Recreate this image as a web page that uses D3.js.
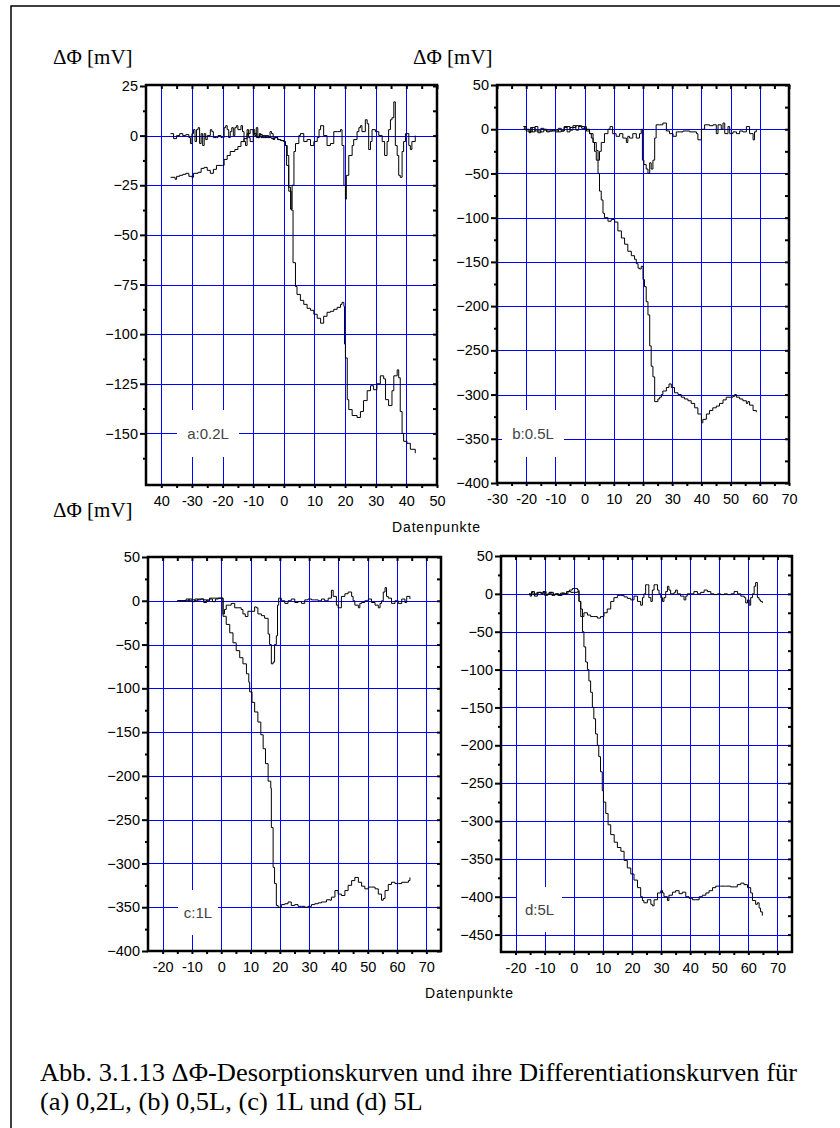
<!DOCTYPE html>
<html>
<head>
<meta charset="utf-8">
<title>Desorptionskurven</title>
<script src="https://d3js.org/d3.v7.min.js"></script>
<style>
body { margin: 0; background: #fff; }
.serif { font-family: "Liberation Serif", "Times New Roman", Times, serif; }
.sans { font-family: "Liberation Sans", Arial, Helvetica, sans-serif; }
</style>
</head>
<body>
<script>
// ---- data: [Datenpunkt, mV] ----
var aIntegral = [[-37,-21],[-35.5,-22],[-35,-20.5],[-34,-20],[-33,-19.5],[-32,-19],[-31,-20.5],[-30,-21],[-29.5,-19],[-28,-18.5],
  [-27,-16.5],[-26,-16],[-25,-17.5],[-24,-19],[-23,-17],[-22,-15],[-20,-15],[-19.5,-12],[-18.5,-10],[-17.5,-8],[-16,-7],
  [-15,-5.5],[-14,-3],[-13,-1.5],[-12,1],[-11,3],[-10,1],[-9,-1],[-8,0.5],[-7,-1],[-6,0],[-5,-1],[-4,-1.5],[-3,-1],[-2,-2],
  [-1,-2.5],[0,-3],[0.5,-5],[1.1,-10],[1.6,-28],[2.4,-37.5],[3,-64],[3.8,-76],[4.3,-80],[5.4,-83],[6.5,-85],[7.6,-87],
  [8.7,-88],[9.8,-90],[10.9,-92],[12,-94.5],[13,-91],[14.1,-89],[15.2,-88.5],[16.3,-87.5],[17.4,-86.5],[18.5,-85],[19,-84],
  [19.6,-86],[19.8,-105],[20.1,-112],[20.7,-133],[21.2,-138],[22.3,-141],[23.9,-142],[25,-139],[26,-133.5],[27.2,-128.5],
  [28.3,-126],[29.3,-128],[30.4,-125],[31.5,-121],[32.6,-122.5],[33.2,-133],[34.2,-136],[35.3,-128.5],[35.9,-121],[37,-118],
  [37.5,-122],[38,-139],[38.6,-150],[39.1,-154],[40.2,-155],[41.3,-158],[42.9,-160]];
var aDiff = [[-37,1],[-36,-1.5],[-35,0],[-34,1],[-33,0],[-32,0.5],[-31,-1],[-30.5,-4],[-30,1],[-29.5,3],[-29,-3],[-28.5,3],
  [-28,4],[-27.5,-4],[-27,1],[-26.5,-5],[-26,1],[-25.5,-2],[-25,0],[-24,3],[-23.5,2],[-23,-1],[-22,-1],[-21.5,0],[-20.5,-1],
  [-20,-1],[-19.5,4],[-19,5],[-18.5,3],[-18,-1],[-17.5,2],[-17,4],[-16.5,0],[-16,4],[-15.5,5],[-15,3],[-14,5],[-13.5,2],
  [-13,-3],[-12.5,-5],[-12,3],[-11.5,-1],[-11,-3],[-10,3],[-9.5,0],[-9,4],[-8.5,-1],[-8,1],[-7.5,-1],[-7,0],[-6,-1],[-5,-1],
  [-4.5,2],[-4,1],[-3.5,-2],[-3,-1],[-2,-2],[-1,-2.5],[0,-3],[0.5,-5],[0.9,-15],[1.6,-26],[2.2,-37],[2.7,-25],[3.3,-8],
  [3.8,-4],[4.9,0],[5.4,1],[6.5,-3],[7.6,-2],[8.7,-5],[9.8,-3],[10.9,-1],[11.5,3],[12,5],[13,0],[14.1,-5],[15.2,-4],[16.3,2],
  [17.4,2],[18.5,3],[19,-5],[19.6,-25],[20.1,-32],[20.4,-20],[21.2,-10],[22.3,-5],[22.8,-2],[23.9,2],[24.5,4],[25,5],
  [25.5,2],[26.6,8],[27.2,6],[27.7,-7],[28.3,-3],[28.8,3],[29.9,2],[31,0],[32.1,-3],[32.9,-10],[33.7,-3],[34.2,3],[34.8,8],
  [35.3,9],[35.9,17],[36.4,-5],[37,-10],[37.5,-20],[38,-21],[38.6,-8],[39.1,-3],[39.7,1],[40.2,1],[40.8,-5],[41.3,-7],
  [41.8,-3],[42.9,0]];

var bIntegral = [[-21,3],[-20,0],[-19,-3],[-18,2],[-17,-2],[-16,-4],[-15,1],[-14,0],[-13,-3],[-12,-2],[-11,-2],[-10,-1],
  [-9,-3],[-8,-2],[-7,2],[-6,3],[-5,-1],[-4,2],[-3,4],[-2,3],[-1,1],[0,3],[0.6,-2],[1.7,-5],[2.3,-10],[2.9,-15],[3.4,-25],
  [4,-35],[4.6,-50],[5.1,-70],[5.7,-80],[6.3,-95],[6.8,-100],[8,-104],[9.1,-102],[10.3,-105],[11.4,-115],[12.6,-123],
  [13.7,-130],[14.8,-138],[16,-143],[17.1,-147],[17.7,-152],[18.3,-157],[18.8,-158],[19.4,-155],[20,-170],[20.5,-178],
  [21.1,-195],[21.7,-210],[22.3,-245],[22.8,-268],[23.4,-280],[24,-308],[25.1,-305],[25.7,-303],[26.3,-300],[26.8,-296],
  [28,-292],[28.9,-288],[29.7,-292],[30.8,-298],[32,-300],[33.1,-303],[34.2,-305],[35.4,-307],[36.5,-310],[37.7,-315],
  [38.8,-322],[40,-332],[40.5,-328],[41.7,-322],[42.8,-318],[43.9,-315],[45.1,-313],[46.2,-310],[47.4,-306],[48.5,-303],
  [50.8,-302],[51.4,-300],[52,-303],[53.1,-305],[54.2,-307],[55.4,-310],[55.9,-308],[56.5,-312],[57.7,-318],[58.8,-320]];
var bDiff = [[-21,0],[-20.5,3],[-20,-2],[-19,-4],[-18.5,2],[-18,-3],[-17,3],[-16,-2],[-15,-3],[-14,-1],[-13,-2],[-12,-2],
  [-11,-1],[-10,-3],[-9,1],[-8,-2],[-7,3],[-6,-3],[-5,2],[-4,4],[-3,-1],[-2,4],[-1,3],[0,0],[1.7,-5],[2.9,-15],[4,-24],
  [4.6,-35],[5.1,-25],[5.7,-15],[6.8,-5],[8,0],[8.7,3],[9.6,-5],[10.8,-8],[12,-5],[13.1,-10],[14.3,-15],[14.8,-8],
  [15.4,-10],[16.5,-5],[17.7,-10],[18.8,-5],[19.4,0],[19.8,-35],[20.3,-40],[21.1,-45],[21.7,-50],[22.3,-38],[22.8,-45],
  [23.4,-35],[24,-10],[24.5,5],[25.7,5],[26.8,7],[28,-2],[29.1,-5],[30.3,-8],[31.4,-3],[33.7,-2],[36,-3],[38.3,-5],
  [38.8,-12],[40,0],[41.1,5],[42.8,4],[44,5],[45.1,-5],[45.7,5],[46.8,0],[47.4,7],[48,-5],[49.1,3],[49.7,-5],[50.8,-3],
  [52,-5],[53.1,-2],[54.2,-3],[55.4,3],[56.5,-5],[57.7,-12],[58.2,-3],[58.8,0]];

var cIntegral = [[-15,0],[-12,0],[-11,2],[-10,1],[-9,0],[-8,2],[-7,2],[-6,1],[-5,0],[-4,3],[-3,3],[-2,3],[-1,3],[0,3],
  [0.6,-17.7],[1.7,-27],[2.9,-36.6],[4,-48],[5.1,-57],[6.3,-65],[7.4,-72],[8.6,-83.4],[9.4,-93],[9.7,-104],[10.5,-116],
  [11.4,-127],[12.5,-138.5],[13.5,-153],[14.3,-169],[15.1,-186],[16,-206],[16.9,-214],[17.1,-259],[17.7,-304.5],
  [18.2,-323],[18.8,-348],[19.4,-350],[20.5,-347],[21.7,-346],[22.8,-344],[23.9,-348],[25.1,-347],[26.2,-349],[27.4,-349],
  [28.5,-350],[29.6,-349],[30.8,-347],[31.9,-346],[33.1,-345],[34.2,-344],[35.3,-344],[35.9,-341.5],[37.1,-342],
  [37.6,-338.5],[38.8,-331],[39.9,-335],[41,-336.6],[42.2,-331],[43.3,-325],[44.5,-319.6],[45.6,-316],[46.8,-321.5],
  [47.9,-326],[49,-329],[50.2,-327],[51.3,-327],[52.5,-329],[53.6,-335],[54.7,-342],[55.3,-340],[55.9,-331],[57,-324],
  [58.1,-321.5],[59.3,-323],[60.4,-323],[61.6,-321.5],[62.7,-321.5],[63.9,-319.6],[64.4,-316]];
var cDiff = [[-15,0],[-13,0],[-12,2],[-11,0],[-10,-1],[-9,2],[-8,1],[-7,2],[-6,-2],[-5,1],[-4,2],[-3,-1],[-2,2],[-1,3],
  [0,3],[0.6,-15],[1.1,-10],[1.7,-5],[2.9,-5],[3.4,-3],[4.6,-8],[5.7,-8],[6.8,-10],[7.4,-15],[8.2,-18],[9.1,-12],
  [10.3,-12],[11.4,-7],[12,-8],[12.5,-15],[13.7,-17],[14.8,-20],[16,-38],[16.5,-50],[17.1,-72],[17.7,-70],[18.2,-50],
  [18.8,-40],[19.2,-5],[19.6,3],[20.5,0],[21.7,-3],[22.8,0],[23.9,2],[25.1,-2],[26.2,-1],[27.4,-3],[28.5,1],[29.6,2],
  [30.8,1],[31.9,1],[33.1,0],[34.2,2],[35.3,0],[36.5,3],[37.6,12],[38.2,5],[39.3,-5],[39.9,-8],[41,5],[42.2,8],[43.3,10],
  [44.5,5],[45,0],[45.6,-5],[46.8,-8],[47.3,-3],[47.9,-2],[49,0],[50.2,2],[51.3,-2],[52.5,-5],[53.6,-8],[54.2,-3],
  [54.7,0],[55.3,10],[55.9,15],[56.4,5],[57,3],[58.1,-3],[59.3,0],[60.4,-3],[61.6,2],[62.7,-2],[63.3,5],[64.4,2]];

var dIntegral = [[-15.3,0],[-14.5,3],[-13.5,-3],[-12.5,2],[-11.5,1],[-10.5,3],[-9.5,-1],[-8.5,2],[-7.5,-2],[-6.5,0],
  [-5.5,-2],[-4.5,1],[-3.5,0],[-2.5,3],[-1.5,5],[-0.5,7],[0.5,7],[1.3,5],[1.8,-10],[2.4,-30],[3,-50],[3.5,-70],[4.1,-90],
  [4.7,-100],[5.2,-115],[5.8,-130],[6.4,-150],[6.9,-165],[7.5,-185],[8.1,-200],[8.6,-215],[9.2,-235],[9.8,-260],
  [10.2,-275],[11,-290],[11.8,-305],[12.7,-318],[13.9,-328],[15,-335],[16.2,-340],[17.3,-352],[18.4,-362],[19.6,-370],
  [20.7,-378],[21.9,-388],[23,-400],[23.6,-405],[24.1,-408],[25.3,-404],[26.5,-410],[27,-412],[27.6,-404],[28.8,-395],
  [29.9,-392],[30.5,-395],[31,-400],[32.2,-405],[32.7,-398],[33.9,-394],[35,-392],[36.2,-396],[37.3,-394],[38.5,-400],
  [39.6,-402],[40.8,-404],[41.9,-404],[43.1,-400],[44.2,-398],[45.4,-395],[46.5,-392],[47.7,-388],[48.8,-386],
  [50.5,-386],[52.2,-386],[53.9,-387],[55.1,-387],[56.2,-384],[57.4,-382],[58.5,-384],[59.7,-388],[60.8,-395],
  [61.4,-405],[62.5,-410],[63.1,-408],[63.7,-415],[64.2,-420],[64.8,-425]];
var dDiff = [[-15.3,0],[-15,-3],[-14.5,2],[-14,-1],[-13,1],[-12,2],[-11,0],[-10.5,3],[-10,-2],[-9,0],[-8,2],[-7,-1],
  [-6,0],[-5,-2],[-4,1],[-3,0],[-2,3],[-1,2],[0,2],[1.3,3],[1.8,-10],[2.4,-20],[3,-30],[3.5,-25],[4.7,-28],[5.8,-30],
  [6.9,-30],[8.1,-32],[9.2,-30],[10.4,-25],[11.5,-20],[12.7,-10],[13.8,-5],[15,-2],[16.1,-2],[17.3,-4],[18.4,-6],
  [19.6,-8],[20.7,-3],[21.9,-10],[23,-15],[23.6,-5],[24.1,0],[24.7,12],[25.3,12],[25.8,-5],[26.5,-10],[27,5],[27.6,12],
  [28.2,12],[28.8,5],[29.3,0],[29.9,-5],[30.5,-10],[31,-5],[31.6,3],[32.2,10],[32.7,5],[33.3,0],[34.5,2],[35,5],[35.6,0],
  [36.7,-3],[37.9,-8],[38.5,-3],[39,0],[40.2,0],[41.3,3],[42.5,0],[43.6,2],[44.8,5],[45.9,3],[47.1,0],[48.2,-1],[49.4,0],
  [50.5,-1],[51.7,0],[52.8,-1],[54,0],[55.1,3],[56.3,0],[57.4,-3],[58.6,-5],[59.1,-12],[59.7,-8],[60.3,-15],[60.8,-5],
  [61.4,0],[62,10],[62.5,15],[63.1,-5],[63.7,-8],[64.2,-10],[64.8,-12]];

// ---- ticks and labels ----
var xTicksA = [-40, -30, -20, -10, 0, 10, 20, 30, 40, 50];
var xTickLabelsA = ["40", "-30", "-20", "-10", "0", "10", "20", "30", "40", "50"];
var xTicksB = [-30, -20, -10, 0, 10, 20, 30, 40, 50, 60, 70];
var xTicksCD = [-20, -10, 0, 10, 20, 30, 40, 50, 60, 70];
var yTicksA = [25, 0, -25, -50, -75, -100, -125, -150];
var yTicksBC = [50, 0, -50, -100, -150, -200, -250, -300, -350, -400];
var yTicksD = [50, 0, -50, -100, -150, -200, -250, -300, -350, -400, -450];
var panelNames = ["a:0.2L", "b:0.5L", "c:1L", "d:5L"];
var yTitle = "\u0394\u03A6 [mV]";
var xTitle = "Datenpunkte";
var caption = ["Abb. 3.1.13 \u0394\u03A6-Desorptionskurven und ihre Differentiationskurven f\u00fcr",
               "(a) 0,2L, (b) 0,5L, (c) 1L und (d) 5L"];

// ---- layout ----
var panels = [
  { box: [146, 85, 437, 485], xDomain: [-45, 50], yDomain: [-176, 25.5], xTicks: xTicksA, xLabels: xTickLabelsA,
    yTicks: yTicksA, curves: [aIntegral, aDiff], name: panelNames[0], nameBox: [177, 410, 239, 457] },
  { box: [497, 85, 789, 483], xDomain: [-30, 70], yDomain: [-400, 50], xTicks: xTicksB, xLabels: null,
    yTicks: yTicksBC, curves: [bIntegral, bDiff], name: panelNames[1], nameBox: [502, 410, 564, 457] },
  { box: [148, 557, 441, 951], xDomain: [-25, 75], yDomain: [-400, 50], xTicks: xTicksCD, xLabels: null,
    yTicks: yTicksBC, curves: [cIntegral, cDiff], name: panelNames[2], nameBox: [178, 890, 218, 935] },
  { box: [501, 556, 792, 952], xDomain: [-25, 75], yDomain: [-473, 50], xTicks: xTicksCD, xLabels: null,
    yTicks: yTicksD, curves: [dIntegral, dDiff], name: panelNames[3], nameBox: [517, 887, 562, 932] }
];

var svg = d3.select("body").append("svg")
    .attr("width", 840)
    .attr("height", 1128);

svg.append("rect").attr("width", 840).attr("height", 1128).attr("fill", "#fff");

// outer border (only left and top visible in the scan)
svg.append("path")
    .attr("d", "M11,1128 V6 H840")
    .attr("fill", "none")
    .attr("stroke", "#000")
    .attr("stroke-width", 1.5);

function midpoints(t, domain) {
  var s = t.slice().sort(d3.ascending), out = [];
  var step = s[1] - s[0];
  for (var v = s[0] - step / 2; v > domain[0]; v -= step) out.push(v);
  for (var i = 0; i < s.length; i++) {
    var m = s[i] + step / 2;
    if (m < domain[1]) out.push(m);
  }
  return out;
}

function styleAxis(sel) {
  sel.attr("font-family", null).attr("font-size", null);
  sel.select(".domain").remove();
  sel.selectAll(".tick line").attr("stroke", "#000").attr("stroke-width", 2);
  sel.selectAll("text")
      .attr("class", "sans")
      .attr("fill", "#000")
      .style("font-size", "14.5px");
}

panels.forEach(function(p, k) {
  var x = d3.scaleLinear().domain(p.xDomain).range([p.box[0], p.box[2]]);
  var y = d3.scaleLinear().domain(p.yDomain).range([p.box[3], p.box[1]]);
  var g = svg.append("g");

  var clipId = "clip" + k;
  svg.append("clipPath").attr("id", clipId)
    .append("rect")
      .attr("x", p.box[0]).attr("y", p.box[1])
      .attr("width", p.box[2] - p.box[0]).attr("height", p.box[3] - p.box[1]);

  // blue grid
  var grid = g.append("g")
      .attr("stroke", "#0000ff")
      .attr("stroke-width", 1)
      .attr("shape-rendering", "crispEdges");
  grid.selectAll(".h")
    .data(p.yTicks.filter(function(v) { return y(v) > p.box[1] + 4 && y(v) < p.box[3] - 4; }))
    .enter().append("line")
      .attr("x1", p.box[0]).attr("x2", p.box[2])
      .attr("y1", function(d) { return Math.round(y(d)) + 0.5; })
      .attr("y2", function(d) { return Math.round(y(d)) + 0.5; });
  grid.selectAll(".v")
    .data(p.xTicks.filter(function(v) { return x(v) > p.box[0] + 4 && x(v) < p.box[2] - 4; }))
    .enter().append("line")
      .attr("y1", p.box[1]).attr("y2", p.box[3])
      .attr("x1", function(d) { return Math.round(x(d)) + 0.5; })
      .attr("x2", function(d) { return Math.round(x(d)) + 0.5; });

  // curves
  var line = d3.line()
      .x(function(d) { return x(d[0]); })
      .y(function(d) { return y(d[1]); })
      .curve(d3.curveStepAfter);
  g.append("g").attr("clip-path", "url(#" + clipId + ")")
    .selectAll("path")
    .data(p.curves)
    .enter().append("path")
      .attr("d", line)
      .attr("fill", "none")
      .attr("stroke", "#000")
      .attr("stroke-width", 1);

  // panel label in a white box
  g.append("rect")
      .attr("x", p.nameBox[0]).attr("y", p.nameBox[1])
      .attr("width", p.nameBox[2] - p.nameBox[0]).attr("height", p.nameBox[3] - p.nameBox[1])
      .attr("fill", "#fff");
  g.append("text")
      .attr("class", "sans")
      .attr("x", (p.nameBox[0] + p.nameBox[2]) / 2)
      .attr("y", (p.nameBox[1] + p.nameBox[3]) / 2 + 5)
      .attr("text-anchor", "middle")
      .attr("fill", "#444")
      .style("font-size", "15px")
      .text(p.name);

  // frame
  g.append("rect")
      .attr("x", p.box[0]).attr("y", p.box[1])
      .attr("width", p.box[2] - p.box[0]).attr("height", p.box[3] - p.box[1])
      .attr("fill", "none")
      .attr("stroke", "#000")
      .attr("stroke-width", 2.5);

  var xMinor = midpoints(p.xTicks, p.xDomain);
  var yMinor = midpoints(p.yTicks, p.yDomain);

  // left axis with labels
  g.append("g").attr("transform", "translate(" + p.box[0] + ",0)")
    .call(d3.axisLeft(y).tickValues(p.yTicks).tickSize(6).tickPadding(2))
    .call(styleAxis);
  g.append("g").attr("transform", "translate(" + p.box[0] + ",0)")
    .call(d3.axisLeft(y).tickValues(yMinor).tickSize(3).tickFormat(""))
    .call(styleAxis);

  // bottom axis with labels
  var xLab = p.xLabels;
  g.append("g").attr("transform", "translate(0," + p.box[3] + ")")
    .call(d3.axisBottom(x).tickValues(p.xTicks).tickSize(3).tickPadding(8)
      .tickFormat(function(d, i) { return xLab ? xLab[i] : d; }))
    .call(styleAxis);
  g.append("g").attr("transform", "translate(0," + p.box[3] + ")")
    .call(d3.axisBottom(x).tickValues(xMinor).tickSize(3).tickFormat(""))
    .call(styleAxis);

  // inward ticks on top and right
  g.append("g").attr("transform", "translate(0," + p.box[1] + ")")
    .call(d3.axisTop(x).tickValues(p.xTicks.concat(xMinor)).tickSize(-4).tickFormat(""))
    .call(styleAxis);
  g.append("g").attr("transform", "translate(" + p.box[2] + ",0)")
    .call(d3.axisRight(y).tickValues(p.yTicks.concat(yMinor)).tickSize(-4).tickFormat(""))
    .call(styleAxis);
});

// axis titles
[[53, 64], [413, 64], [53, 517]].forEach(function(pos) {
  svg.append("text")
      .attr("class", "serif")
      .attr("x", pos[0]).attr("y", pos[1])
      .style("font-size", "21px")
      .text(yTitle);
});
[[436, 532], [469, 998]].forEach(function(pos) {
  svg.append("text")
      .attr("class", "sans")
      .attr("x", pos[0]).attr("y", pos[1])
      .attr("text-anchor", "middle")
      .attr("textLength", 88)
      .attr("lengthAdjust", "spacing")
      .style("font-size", "14px")
      .text(xTitle);
});

// caption
var cap1 = svg.append("text")
    .attr("class", "serif")
    .attr("x", 40).attr("y", 1081)
    .style("font-size", "26px")
    .text(caption[0]);
var cap2 = svg.append("text")
    .attr("class", "serif")
    .attr("x", 40).attr("y", 1110)
    .style("font-size", "26px")
    .text(caption[1]);
var squeeze = 757 / cap1.node().getComputedTextLength();
cap1.attr("textLength", 757).attr("lengthAdjust", "spacingAndGlyphs");
cap2.attr("textLength", cap2.node().getComputedTextLength() * squeeze).attr("lengthAdjust", "spacingAndGlyphs");
</script>
</body>
</html>
